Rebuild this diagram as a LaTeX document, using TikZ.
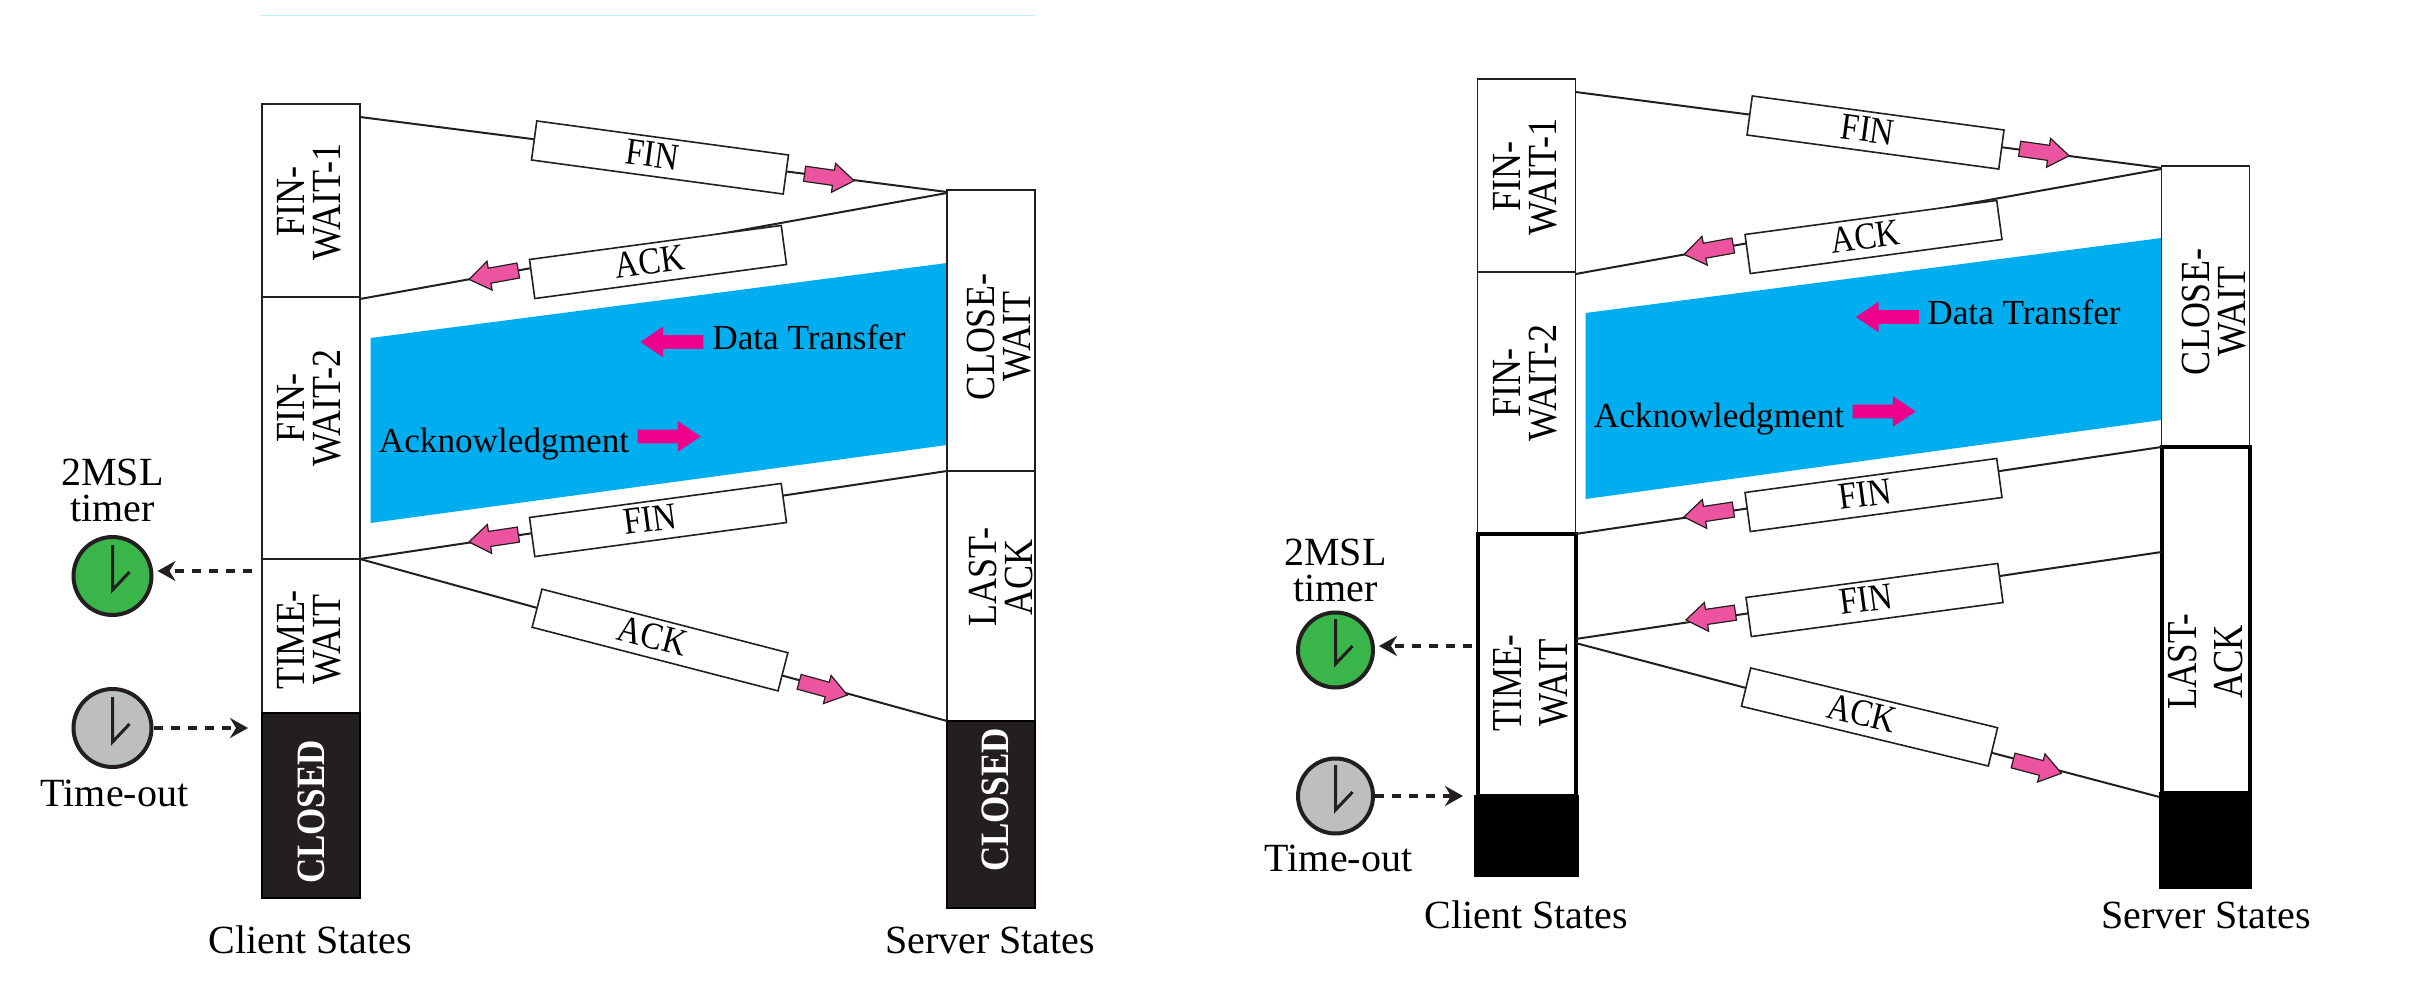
\documentclass[tikz,border=0pt]{standalone}
\usepackage{fontspec}
\usepackage{xcolor}
\usepackage{graphicx}
\usepackage{tikz}
\usetikzlibrary{arrows.meta, positioning, shapes.arrows}
\setmainfont{Liberation Serif}
\definecolor{flowblue}{HTML}{00AEEF}
\definecolor{msgpink}{HTML}{EC549F}
\definecolor{bigpink}{HTML}{EC008C}
\definecolor{clkgreen}{HTML}{39B54A}
\definecolor{clkgray}{HTML}{BCBEC0}
\definecolor{inkline}{HTML}{231F20}
\newcommand{\tall}[2][1.15]{\scalebox{1}[#1]{#2}}
\newcommand{\msgtext}[1]{\hspace*{-8pt}\raisebox{2pt}{\tall{#1}}}
\tikzset{
  state/.style   = {draw=inkline, fill=white, line width=0.8pt, minimum width=49pt,
                    inner sep=0pt, outer sep=0pt},
  srvstate/.style = {state, minimum width=44pt},
  heavy/.style   = {draw=black, line width=2pt},
  closed/.style  = {state, draw=black, fill=inkline},
  stlbl/.style   = {rotate=90, align=center, inner sep=0pt,
                    font=\fontsize{18}{18}\selectfont},
  biglbl/.style  = {stlbl, font=\fontsize{17.5}{23}\selectfont},
  clslbl/.style  = {rotate=90, inner sep=0pt, text=white,
                    font=\fontsize{17.5}{20}\selectfont\bfseries},
  msg/.style     = {draw=inkline, fill=white, line width=0.8pt, minimum width=127pt,
                    minimum height=19.7pt, inner sep=0pt, font=\fontsize{16.5}{19}\selectfont},
  link/.style    = {draw=inkline, line width=1pt},
  tinyarrow/.style = {single arrow, draw=inkline, fill=msgpink, line width=0.6pt, inner xsep=0pt,
                    inner ysep=3.5pt, minimum height=25pt, minimum width=14pt,
                    single arrow head extend=3.5pt, single arrow tip angle=70},
  bigarrow/.style = {single arrow, fill=bigpink, inner xsep=0pt, inner ysep=3.25pt,
                    minimum height=31.5pt, minimum width=15pt, single arrow head extend=4.25pt,
                    single arrow tip angle=68},
  txt/.style     = {inner sep=0pt, align=center, font=\fontsize{20}{18}\selectfont},
  flowtxt/.style = {inner sep=0pt, font=\fontsize{17.6}{20}\selectfont},
  clock/.style   = {circle, draw=inkline, line width=2pt, minimum size=39pt, inner sep=0pt,
                    path picture={\draw[inkline, line width=1.5pt]
                      ([yshift=15.5pt]path picture bounding box.center)
                      -- ([yshift=-7pt]path picture bounding box.center)
                      -- ([xshift=8.5pt,yshift=2pt]path picture bounding box.center);}},
  timerflow/.style = {draw=inkline, line width=2pt, dash pattern=on 4.5pt off 4pt,
                    -{Stealth[length=9pt,width=10pt,inset=3pt]}}
}
\begin{document}
\begin{tikzpicture}[x=0.5pt, y=-0.5pt, node distance=0pt]
  \useasboundingbox (0,0) rectangle (2414,1000);
  \draw[cyan!25, line width=0.5pt] (261,16) -- (1035,16);

  \fill[flowblue] (370.5,338) -- (947,263) -- (947,445) -- (370.5,523) -- cycle;
  \node[state, minimum height=96.5pt] (fw1a) at (311,200.5) {};
  \node[state, minimum height=131pt, below=of fw1a] (fw2a) {};
  \node[state, minimum height=77pt, below=of fw2a] (twa) {};
  \node[closed, minimum height=92.5pt, below=of twa] (cla) {};
  \node[srvstate, minimum height=140.5pt] (cwa) at (991,330.5) {};
  \node[srvstate, minimum height=125pt, below=of cwa] (laa) {};
  \node[closed, minimum width=44pt, minimum height=93.5pt, below=of laa] (csa) {};
  \node[stlbl] (fw1atxt) at (309,202) {\tall{FIN-}\\\tall{WAIT-1}};
  \node[stlbl] (fw2atxt) at (309,408) {\tall{FIN-}\\\tall{WAIT-2}};
  \node[stlbl] (twatxt) at (309,640) {\tall{TIME-}\\\tall{WAIT}};
  \node[stlbl] (cwatxt) at (999,337) {\tall{CLOSE-}\\\tall{WAIT}};
  \node[stlbl] (laatxt) at (1001,577) {\tall{LAST-}\\\tall{ACK}};
  \node[clslbl] (clatxt) at (311,812) {\tall{CLOSED}};
  \node[clslbl] (csatxt) at (995,800) {\tall{CLOSED}};

  \draw[link] ([yshift=-6.5pt]fw1a.north east) -- ([yshift=-1pt]cwa.north west);
  \draw[link] ([yshift=-1.5pt]cwa.north west) -- ([yshift=-1pt]fw2a.north east);
  \draw[link] (cwa.south west) -- (fw2a.south east);
  \draw[link] (twa.north east) -- (csa.north west);
  \node[msg, rotate=-7.7] (fin1a) at (660,157.5) {\msgtext{FIN}};
  \node[msg, rotate=7.7] (ack1a) at (658,262) {\msgtext{ACK}};
  \node[msg, rotate=7.7] (fin2a) at (658,520) {\msgtext{FIN}};
  \node[msg, rotate=-14.5] (ack2a) at (660,640) {\msgtext{ACK}};
  \node[tinyarrow, rotate=-8] (fin1atip) at (824,176.5) {};
  \node[tinyarrow, rotate=190.2] (ack1atip) at (499,274) {};
  \node[tinyarrow, rotate=188.5] (fin2atip) at (499,537.5) {};
  \node[tinyarrow, rotate=-15.4] (ack2atip) at (818,687) {};
  \node[bigarrow, rotate=180] (dataatip) at (677,342) {};
  \node[bigarrow] (ackatip) at (664,436.5) {};
  \node[flowtxt, anchor=west] (dataatxt) at (712,337) {Data Transfer};
  \node[flowtxt, anchor=west] (ackatxt) at (378.5,444) {Acknowledgment};

  \node[clock, fill=clkgreen] (tmra) at (112.5,576) {};
  \node[clock, fill=clkgray] (outa) at (112.5,728) {};
  \node[txt] (tmratxt) at (112.5,490) {2MSL\\timer};
  \node[txt] (outatxt) at (114.5,793) {Time-out};
  \draw[timerflow] ([yshift=2.5pt,xshift=-5pt]tmra.east -| twa.west) -- ([yshift=2.5pt,xshift=2pt]tmra.east);
  \draw[timerflow] (outa.east) -- ([xshift=-7pt]outa.east -| cla.west);
  \node[txt] (cliatxt) at (310,940) {Client States};
  \node[txt] (srvatxt) at (990,940) {Server States};

  \fill[flowblue] (1585.5,313) -- (2161.5,238) -- (2161.5,420) -- (1585.5,499) -- cycle;
  \node[state, minimum height=96.5pt] (fw1b) at (1526.5,175.5) {};
  \node[state, minimum height=131pt, below=of fw1b] (fw2b) {};
  \node[state, heavy, minimum height=131pt, below=of fw2b] (twb) {};
  \node[closed, draw=black, fill=black, minimum width=51.5pt, minimum height=40pt, below=of twb] (clb) {};
  \node[srvstate, minimum height=140.5pt] (cwb) at (2205.5,306.5) {};
  \node[srvstate, heavy, minimum height=173pt, below=of cwb] (lab) {};
  \node[closed, draw=black, fill=black, minimum width=46pt, minimum height=47.5pt, below=of lab] (csb) {};
  \node[stlbl] (fw1btxt) at (1525,177) {\tall{FIN-}\\\tall{WAIT-1}};
  \node[stlbl] (fw2btxt) at (1525,383) {\tall{FIN-}\\\tall{WAIT-2}};
  \node[stlbl] (cwbtxt) at (2214,312) {\tall{CLOSE-}\\\tall{WAIT}};
  \node[biglbl] (twbtxt) at (1531,683) {\tall[1.22]{TIME-}\\\tall[1.22]{WAIT}};
  \node[biglbl] (labtxt) at (2206,662) {\tall[1.22]{LAST-}\\\tall[1.22]{ACK}};

  \draw[link] ([yshift=-6.5pt]fw1b.north east) -- ([yshift=-1pt]cwb.north west);
  \draw[link] ([yshift=-1.5pt]cwb.north west) -- ([yshift=-1pt]fw2b.north east);
  \draw[link] (cwb.south west) -- (fw2b.south east);
  \draw[link] ([yshift=-52.5pt]lab.north west) -- ([yshift=-52.5pt]twb.north east);
  \draw[link] ([yshift=-54.5pt]twb.north east) -- ([yshift=-2pt]csb.north west);
  \node[msg, rotate=-7.7] (fin1b) at (1875.5,132.5) {\msgtext{FIN}};
  \node[msg, rotate=7.7] (ack1b) at (1873.5,237) {\msgtext{ACK}};
  \node[msg, rotate=7.7] (fin2b) at (1873.5,495) {\msgtext{FIN}};
  \node[msg, rotate=7.7] (fin3b) at (1874.5,600) {\msgtext{FIN}};
  \node[msg, rotate=-13.6] (ack2b) at (1869.5,717) {\msgtext{ACK}};
  \node[tinyarrow, rotate=-8] (fin1btip) at (2039,151.5) {};
  \node[tinyarrow, rotate=190.2] (ack1btip) at (1714,249) {};
  \node[tinyarrow, rotate=188.5] (fin2btip) at (1714,512.5) {};
  \node[tinyarrow, rotate=188.3] (fin3btip) at (1716,615.5) {};
  \node[tinyarrow, rotate=-14.8] (ack2btip) at (2032,765.5) {};
  \node[bigarrow, rotate=180] (databtip) at (1892.5,317) {};
  \node[bigarrow] (ackbtip) at (1879,411.5) {};
  \node[flowtxt, anchor=west] (databtxt) at (1927,312) {Data Transfer};
  \node[flowtxt, anchor=west] (ackbtxt) at (1593.5,419) {Acknowledgment};

  \node[clock, fill=clkgreen, minimum size=37.5pt] (tmrb) at (1335.5,650) {};
  \node[clock, fill=clkgray, minimum size=37.5pt] (outb) at (1335.5,796) {};
  \node[txt] (tmrbtxt) at (1335.5,570) {2MSL\\timer};
  \node[txt] (outbtxt) at (1338.5,858) {Time-out};
  \draw[timerflow] ([yshift=2pt,xshift=-3pt]tmrb.east -| twb.west) -- ([yshift=2pt,xshift=2pt]tmrb.east);
  \draw[timerflow] (outb.east) -- ([xshift=-6pt]outb.east -| clb.west);
  \node[txt] (clibtxt) at (1526,915) {Client States};
  \node[txt] (srvbtxt) at (2206,915) {Server States};
\end{tikzpicture}
\end{document}
